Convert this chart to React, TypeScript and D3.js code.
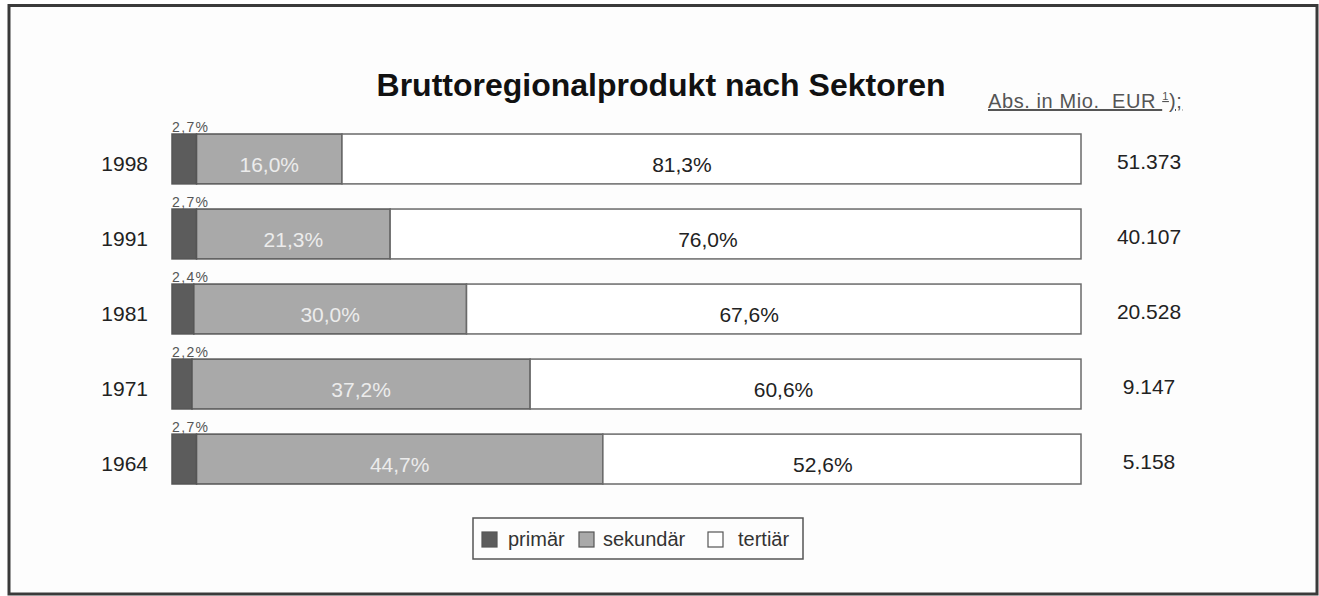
import React from "react";
import * as d3 from "d3";

const years = ["1998", "1991", "1981", "1971", "1964"];
const primaer = [2.7, 2.7, 2.4, 2.2, 2.7];
const sekundaer = [16.0, 21.3, 30.0, 37.2, 44.7];
const tertiaer = [81.3, 76.0, 67.6, 60.6, 52.6];
const absValues = ["51.373", "40.107", "20.528", "9.147", "5.158"];
const seriesNames = ["primär", "sekundär", "tertiär"];

const W = 1319;
const H = 596;
const FONT = "'Liberation Sans', Arial, Helvetica, sans-serif";
const fmt = (v: number) => v.toFixed(1).replace(".", ",") + "%";

export default function App() {
  const x = d3.scaleLinear().domain([0, 100]).range([172, 1081]);
  const y = d3.scaleBand<string>().domain(years).range([134, 484]).paddingInner(0.335).paddingOuter(0);
  const bw = y.bandwidth();

  const rows = years.map((yr, i) => ({ yr, p: primaer[i], s: sekundaer[i], t: tertiaer[i], abs: absValues[i] }));
  const stack = d3.stack<any>().keys(["p", "s", "t"])(rows as any);
  const fills = ["#5c5c5c", "#a9a9a9", "#ffffff"];

  const legendX = [482, 579, 708];
  const legendTextX = [508, 603, 738];

  return (
    <svg width={W} height={H} style={{ position: "absolute", left: 0, top: 0, display: "block" }} fontFamily={FONT}>
      <rect x={0} y={0} width={W} height={H} fill="#ffffff" />
      <rect x={9} y={5.5} width={1308} height={588.5} fill="#fdfdfd" stroke="#3a3a3a" strokeWidth={3} />
      <text x={661} y={96} textAnchor="middle" fontSize={32} fontWeight="bold" fill="#111">
        Bruttoregionalprodukt nach Sektoren
      </text>
      <text x={988} y={108} fontSize={20} fill="#555" textDecoration="underline" letterSpacing={0.6} style={{ whiteSpace: "pre" }}>
        {"Abs. in Mio.  EUR "}<tspan fontSize={11} dy={-8}>1</tspan><tspan dy={8}>);</tspan>
      </text>
      {stack.map((layer, li) =>
        layer.map((d, i) => (
          <rect key={li + "-" + i} x={x(d[0])} y={y(years[i])!} width={x(d[1]) - x(d[0])} height={bw}
            fill={fills[li]} stroke={li === 2 ? "#6a6a6a" : "#555"} strokeWidth={1.5} />
        ))
      )}
      {rows.map((r, i) => {
        const top = y(r.yr)!;
        const c = top + bw / 2;
        const sStart = x(r.p), sEnd = x(r.p + r.s), tEnd = x(r.p + r.s + r.t);
        return (
          <g key={r.yr} fontSize={21}>
            <text x={148} y={c + 12} textAnchor="end" fill="#222" fontSize={21}>{r.yr}</text>
            <text x={x(0)} y={top - 2} fontSize={14} fill="#555" textLength={36}>{fmt(r.p)}</text>
            <text x={(sStart + sEnd) / 2} y={c + 13} textAnchor="middle" fill="#ececec">{fmt(r.s)}</text>
            <text x={sEnd + (tEnd - sEnd) * 0.46} y={c + 13} textAnchor="middle" fill="#222">{fmt(r.t)}</text>
            <text x={1149} y={c + 10} textAnchor="middle" fill="#222" fontSize={21}>{r.abs}</text>
          </g>
        );
      })}
      <rect x={473} y={518} width={330} height={41} fill="#fdfdfd" stroke="#555" strokeWidth={1.5} />
      {seriesNames.map((n, i) => (
        <g key={n}>
          <rect x={legendX[i]} y={532} width={15} height={15} fill={fills[i]} stroke="#555" strokeWidth={1.2} />
          <text x={legendTextX[i]} y={546} fontSize={20} fill="#333">{n}</text>
        </g>
      ))}
    </svg>
  );
}
